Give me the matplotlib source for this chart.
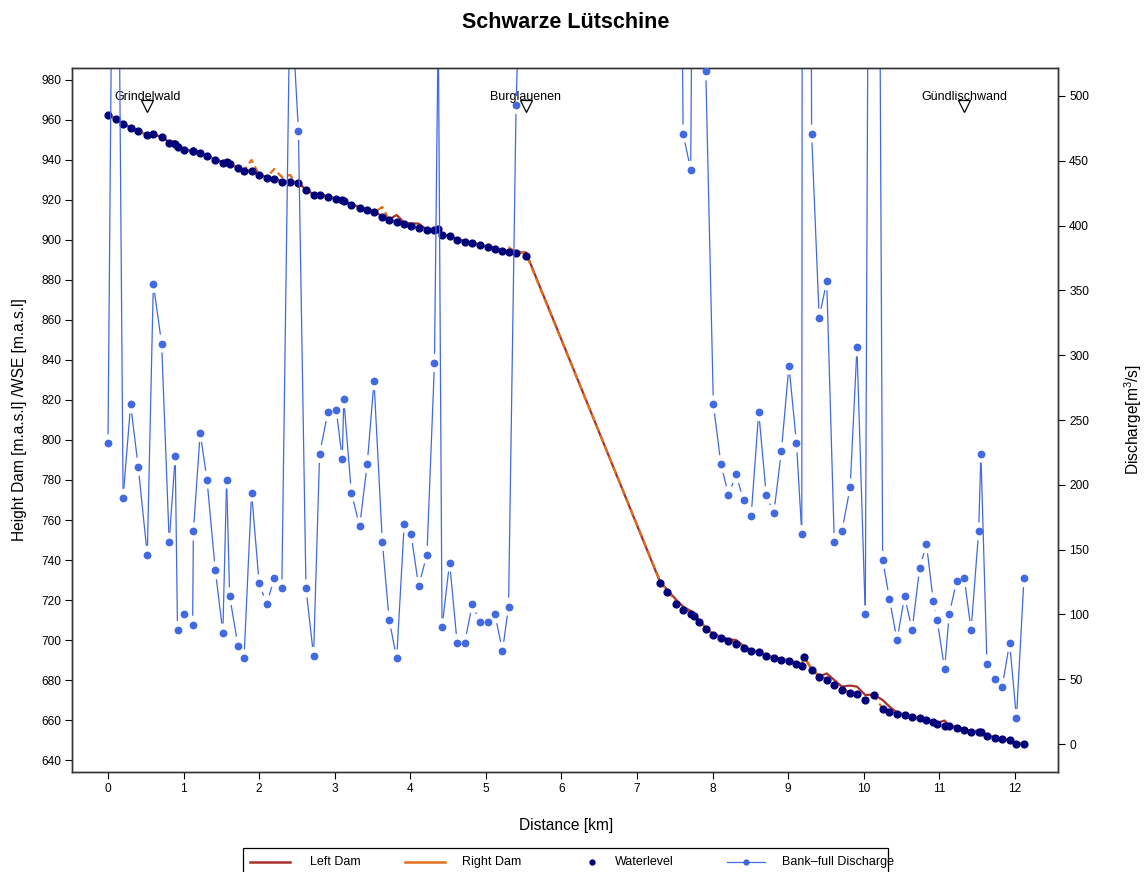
import numpy as np
import matplotlib
matplotlib.use("Agg")
import matplotlib.pyplot as plt
from matplotlib.collections import LineCollection
from matplotlib.lines import Line2D
from matplotlib.patches import Rectangle

plt.rcParams['font.family'] = ['Liberation Sans', 'DejaVu Sans']
plt.rcParams['mathtext.fontset'] = 'custom'
plt.rcParams['mathtext.rm'] = 'Liberation Sans'
plt.rcParams['mathtext.it'] = 'Liberation Sans'

# cross-section positions along the river [km]
dist_km = [0.00, 0.10, 0.20, 0.30, 0.40, 0.52, 0.60, 0.71, 0.81, 0.89, 0.92, 1.01, 1.12, 1.13, 1.22,
           1.31, 1.42, 1.52, 1.57, 1.61, 1.72, 1.80, 1.90, 2.00, 2.10, 2.20, 2.30, 2.41, 2.52, 2.62,
           2.72, 2.80, 2.91, 3.02, 3.10, 3.12, 3.22, 3.33, 3.43, 3.52, 3.63, 3.72, 3.82, 3.92, 4.01,
           4.11, 4.22, 4.32, 4.37, 4.42, 4.52, 4.62, 4.72, 4.82, 4.92, 5.03, 5.12, 5.22, 5.30, 5.40,
           5.53,
           7.30, 7.39, 7.52, 7.61, 7.71, 7.76, 7.82, 7.91, 8.01, 8.11, 8.21, 8.31, 8.41, 8.51, 8.61,
           8.71, 8.81, 8.91, 9.01, 9.11, 9.18, 9.21, 9.31, 9.41, 9.51, 9.61, 9.71, 9.82, 9.91, 10.02,
           10.13, 10.25, 10.34, 10.44, 10.54, 10.64, 10.74, 10.83, 10.92, 10.97, 11.07, 11.13, 11.23,
           11.33, 11.42, 11.52, 11.55, 11.63, 11.73, 11.83, 11.93, 12.02, 12.12]

# water surface elevation [m a.s.l.]
waterlevel = [962.5, 960.7, 958.2, 956.0, 954.3, 952.3, 952.8, 951.3, 948.7, 948.0, 946.3, 945.0,
              944.5, 944.3, 943.3, 941.8, 940.2, 938.7, 939.2, 938.0, 935.8, 934.7, 934.3, 932.5,
              931.2, 930.5, 928.8, 929.2, 928.7, 924.8, 922.7, 922.7, 921.5, 920.5, 919.8, 919.3,
              917.5, 916.2, 914.8, 913.8, 911.7, 910.0, 909.0, 908.2, 907.2, 906.0, 904.8, 904.8,
              905.5, 902.7, 901.8, 900.2, 899.2, 898.3, 897.3, 896.3, 895.7, 894.3, 893.8, 893.7,
              892.0,
              728.7, 724.0, 718.2, 715.0, 712.8, 711.8, 708.8, 705.3, 702.7, 701.2, 699.7, 698.0,
              696.2, 694.5, 693.8, 692.2, 690.8, 690.2, 689.5, 687.8, 687.0, 691.5, 685.2, 681.7,
              680.2, 677.3, 675.0, 673.3, 672.8, 669.8, 672.3, 665.5, 664.2, 663.0, 662.5, 661.3,
              660.8, 659.8, 658.8, 658.2, 656.8, 656.8, 656.2, 655.2, 654.2, 654.2, 654.2, 652.2,
              651.2, 650.3, 649.8, 648.0, 648.0]

# crest of the left embankment [m a.s.l.]
left_dam = [962.5, 960.7, 958.4, 956.2, 954.5, 952.6, 952.8, 951.5, 949.0, 949.5, 946.6, 945.2,
            944.6, 944.4, 943.4, 942.0, 940.4, 939.0, 939.4, 938.2, 936.0, 935.0, 934.5, 932.8,
            931.5, 930.8, 929.2, 929.4, 928.9, 925.0, 923.0, 922.9, 921.8, 920.7, 920.0, 919.5,
            917.8, 916.6, 915.2, 914.0, 912.0, 910.3, 912.5, 908.6, 908.3, 908.2, 905.2, 905.0,
            905.6, 903.0, 902.0, 900.5, 899.5, 898.6, 897.6, 896.6, 896.0, 894.7, 894.2, 893.8,
            893.8,
            729.5, 725.5, 720.0, 716.7, 714.5, 712.5, 710.0, 706.0, 703.0, 701.7, 700.3, 700.0,
            697.0, 695.0, 694.2, 692.5, 691.2, 690.5, 689.8, 688.7, 688.0, 691.7, 685.5, 681.8,
            683.3, 680.0, 676.7, 677.2, 676.7, 672.5, 672.7, 670.0, 666.7, 663.7, 662.8, 661.6,
            661.1, 660.1, 659.3, 658.6, 659.7, 657.2, 656.5, 655.5, 654.5, 654.5, 654.5, 652.5,
            651.5, 650.6, 650.0, 648.3, 648.2]

# crest of the right embankment [m a.s.l.]
right_dam = [962.5, 960.8, 958.3, 956.1, 954.4, 952.5, 952.9, 951.4, 949.0, 948.2, 946.5, 945.1,
             944.6, 944.4, 943.4, 941.9, 940.3, 938.8, 939.3, 938.1, 936.0, 934.9, 940.0, 932.6,
             931.3, 935.5, 931.5, 932.5, 926.7, 924.9, 922.8, 922.8, 921.6, 920.6, 919.9, 919.4,
             917.6, 916.3, 914.9, 913.9, 916.5, 910.1, 909.1, 908.3, 907.3, 906.1, 904.9, 904.9,
             905.5, 902.8, 901.9, 900.3, 899.3, 898.4, 897.4, 896.4, 895.8, 894.4, 896.3, 894.0,
             893.2,
             730.0, 724.8, 719.0, 715.8, 713.4, 712.3, 709.4, 705.8, 703.0, 701.5, 700.0, 698.5,
             696.6, 694.9, 694.1, 692.5, 691.1, 690.5, 689.8, 688.1, 687.3, 691.0, 685.5, 682.0,
             680.6, 677.7, 675.4, 673.7, 673.1, 670.2, 672.3, 665.8, 664.5, 663.3, 662.8, 661.6,
             661.1, 660.1, 659.1, 658.5, 657.1, 657.1, 656.5, 655.5, 654.5, 654.5, 654.5, 652.5,
             651.5, 650.6, 650.1, 648.3, 648.3]

# bank-full discharge per cross-section [m3/s]
discharge = [232, 930, 190, 262, 214, 146, 355, 309, 156, 222, 88, 100, 92, 164, 240, 204, 134, 86,
             204, 114, 76, 66, 194, 124, 108, 128, 120, 590, 473, 120, 68, 224, 256, 258, 220, 266,
             194, 168, 216, 280, 156, 96, 66, 170, 162, 122, 146, 294, 560, 90, 140, 78, 78, 108,
             94, 94, 100, 72, 106, 493, 750,
             1500, 1500, 1100, 471, 443, 850, 700, 519, 262, 216, 192, 208, 188, 176, 256, 192,
             178, 226, 292, 232, 162, 2500, 471, 329, 357, 156, 164, 198, 306, 100, 1550, 142, 112,
             80, 114, 88, 136, 154, 110, 96, 58, 100, 126, 128, 88, 164, 224, 62, 50, 44, 78, 20,
             128]

station_names = ["Grindelwald", "Burglauenen", "Gündlischwand"]
station_km = [0.52, 5.53, 11.33]
station_level = 967.0

x_ticks = list(range(0, 13))
h_ticks = list(range(640, 981, 20))
q_ticks = list(range(0, 501, 50))

LEFT_C = "#A8302A"
RIGHT_C = "#E0701C"
WL_C = "#00007A"
Q_C = "#4169E1"

W, H = 1148, 872
fig = plt.figure(figsize=(W / 100, H / 100), dpi=100)


def fx(px):
    return px / W


def fy(py):
    return 1 - py / H


L, R, T, B = 72, 1058, 68, 772
ax = fig.add_axes([fx(L), fy(B), (R - L) / W, (B - T) / H])
ax.set_xlim(-0.476, 12.57)
ax.set_ylim(634, 986)

ax.plot(dist_km, left_dam, color=LEFT_C, lw=1.6, zorder=2, solid_joinstyle='round')
ax.plot(dist_km, right_dam, color=RIGHT_C, lw=1.6, ls=(0, (3.2, 1.9)), zorder=2)
ax.plot(dist_km, waterlevel, 'o', color=WL_C, ms=4.9, ls='none', zorder=3)

ax.plot(station_km, [station_level] * len(station_km), marker='v', ms=8, mfc='none',
        mec='black', mew=0.9, ls='none', zorder=4)
for name, km in zip(station_names, station_km):
    ax.text(km, station_level + 2.9, name, ha='center', va='baseline', fontsize=9, zorder=4)

ax.set_xticks(x_ticks)
ax.set_yticks(h_ticks)
ax.tick_params(axis='both', direction='out', length=5, width=0.8, labelsize=8.6,
               colors='black', pad=3)
for sp in ax.spines.values():
    sp.set_linewidth(1.0)
    sp.set_color('#333333')

ax2 = ax.twinx()
ax2.set_ylim(-21.6, 521.6)
ax2.set_yticks(q_ticks)
ax2.tick_params(axis='y', direction='out', length=5, width=0.8, labelsize=8.6, pad=3)
for sp in ax2.spines.values():
    sp.set_linewidth(1.0)
    sp.set_color('#333333')

# connecting lines that stop short of each point
pts = ax2.transData.transform(np.column_stack([dist_km, discharge]).astype(float))
inv = ax2.transData.inverted()
gap = 9.0
segs = []
for p0, p1 in zip(pts[:-1], pts[1:]):
    d = p1 - p0
    ln = np.hypot(*d)
    if ln <= 2 * gap:
        continue
    u = d / ln
    segs.append(inv.transform(np.array([p0 + u * gap, p1 - u * gap])))
ax2.add_collection(LineCollection(segs, colors=Q_C, linewidths=0.9, zorder=2))
ax2.plot(dist_km, discharge, 'o', color=Q_C, ms=4.6, ls='none', zorder=3)

fig.text(fx(566), fy(23), "Schwarze Lütschine", ha='center', va='center', fontsize=15.5,
         fontweight='bold')
fig.text(fx(566), fy(825), "Distance [km]", ha='center', va='center', fontsize=11.2)
fig.text(fx(20), fy(420), "Height Dam [m.a.s.l] /WSE [m.a.s.l]", ha='center', va='center',
         rotation=90, fontsize=11.2)
fig.text(fx(1133), fy(420), "Discharge[m$^{3}$/s]", ha='center', va='center', rotation=90,
         fontsize=11.2)

# legend box along the bottom edge
fig.add_artist(Rectangle((fx(243), fy(885)), (888 - 243) / W, (885 - 848) / H,
                         transform=fig.transFigure, fill=False, ec='black', lw=0.9))
ly = fy(862)
entries = [
    (250, 290, 310, "Left Dam", dict(color=LEFT_C, lw=1.8)),
    (405, 445, 462, "Right Dam", dict(color=RIGHT_C, lw=1.8)),
    (None, 592, 615, "Waterlevel", None),
    (727, 765, 782, "Bank\u2013full Discharge", dict(color=Q_C, lw=0.9)),
]
for x0, x1, xt, label, style in entries:
    if style is not None:
        fig.add_artist(Line2D([fx(x0), fx(x1)], [ly, ly], transform=fig.transFigure, **style))
    if label == "Waterlevel":
        fig.add_artist(Line2D([fx(x1)], [ly], transform=fig.transFigure, marker='o', ms=3.5,
                              color=WL_C, ls='none'))
    if label.startswith("Bank"):
        fig.add_artist(Line2D([fx((x0 + x1) / 2)], [ly], transform=fig.transFigure, marker='o',
                              ms=3.5, color=Q_C, ls='none'))
    fig.text(fx(xt), ly, label, ha='left', va='center', fontsize=9)

fig.savefig("out.png", dpi=100)
